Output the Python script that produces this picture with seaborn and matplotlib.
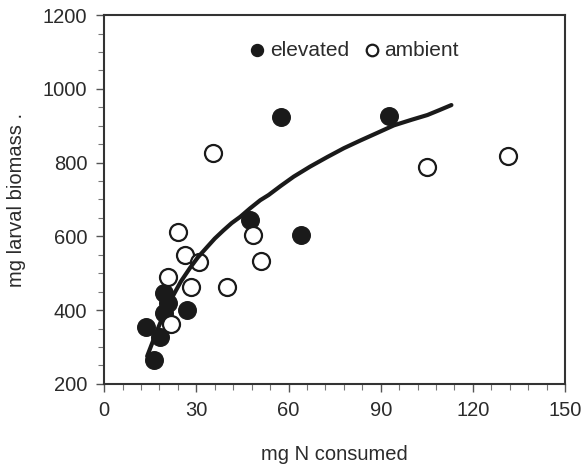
import matplotlib
matplotlib.use("Agg")
import matplotlib.pyplot as plt
import seaborn as sns
import pandas as pd
from matplotlib.ticker import MultipleLocator

# data
elev_x = [13.6, 16.2, 18.2, 19.4, 20.9, 19.4, 26.9, 47.6, 57.6, 64.1, 92.8]
elev_y = [355, 264, 328, 446, 418, 392, 399, 643, 923, 603, 927]

amb_x = [21.8, 20.8, 28.3, 26.2, 30.9, 24.1, 35.4, 39.9, 48.3, 51.0, 105.2, 131.3]
amb_y = [362, 489, 462, 549, 531, 613, 825, 463, 603, 532, 787, 819]

# fitted curve
fit_x = [14, 17, 20, 22.5, 25, 28, 30.5, 33.4, 36, 38.8, 41.5, 44.3, 47.5, 50.8,
         53.5, 57.5, 61.7, 67, 72.6, 78, 83.4, 89, 94.3, 100, 105.2, 109, 113]
fit_y = [275, 340, 400, 440, 478, 515, 543, 570, 594, 616, 636, 653, 676, 698,
         712, 737, 762, 789, 815, 839, 860, 881, 901, 916, 929, 942, 956]

elev = pd.DataFrame({"x": elev_x, "y": elev_y})
amb = pd.DataFrame({"x": amb_x, "y": amb_y})
fit = pd.DataFrame({"x": fit_x, "y": fit_y})

sns.set_style("ticks")
plt.rcParams["font.family"] = ["Liberation Sans", "DejaVu Sans"]
ink = "#1a1a1a"
txt = "#2b2b2b"

fig = plt.figure(figsize=(5.85, 4.71), dpi=100)
ax = fig.add_axes([0.178, 0.185, 0.788, 0.783])

sns.scatterplot(data=elev, x="x", y="y", ax=ax, s=160, color=ink,
                edgecolor=ink, linewidth=1.0, label="elevated", zorder=3)
sns.scatterplot(data=amb, x="x", y="y", ax=ax, s=150, facecolor="white",
                edgecolor=ink, linewidth=1.6, label="ambient", zorder=3)
sns.lineplot(data=fit, x="x", y="y", ax=ax, sort=False, estimator=None,
             color=ink, linewidth=3.0, zorder=4, legend=False)

ax.set_xlim(0, 150)
ax.set_ylim(200, 1200)
ax.xaxis.set_major_locator(MultipleLocator(30))
ax.xaxis.set_minor_locator(MultipleLocator(6))
ax.yaxis.set_major_locator(MultipleLocator(200))
ax.yaxis.set_minor_locator(MultipleLocator(50))

for sp in ax.spines.values():
    sp.set_visible(True)
    sp.set_color("#333333")
    sp.set_linewidth(1.5)

ax.tick_params(which="major", length=6, width=1, color="#555555",
               labelsize=14.5, labelcolor=txt, pad=6)
ax.tick_params(which="minor", length=4, width=0.8, color="#777777")

ax.set_xlabel("mg N consumed", fontsize=14.5, color=txt, labelpad=18)
ax.set_ylabel("mg larval biomass .", fontsize=14.5, color=txt, labelpad=12)

ax.legend(loc="center", bbox_to_anchor=(0.54, 0.905), ncol=2, frameon=False,
          markerscale=0.68, fontsize=15, handletextpad=0.1,
          columnspacing=0.6, handlelength=1.0, labelcolor=txt)

fig.savefig("out.png", dpi=100)
